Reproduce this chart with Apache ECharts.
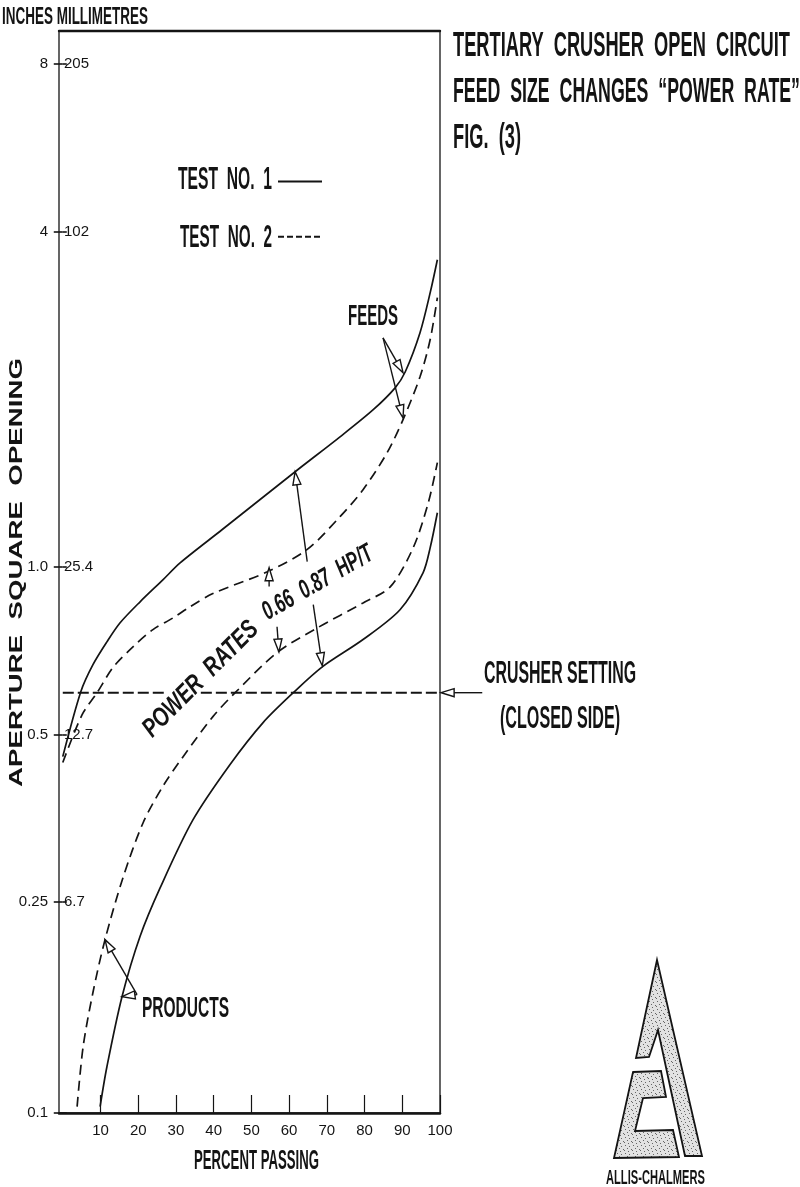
<!DOCTYPE html>
<html>
<head>
<meta charset="utf-8">
<style>html,body{margin:0;padding:0;background:#fff}#chart{width:800px;height:1187px}</style>
<script src="https://cdn.jsdelivr.net/npm/echarts@6/dist/echarts.min.js"></script>
</head>
<body>
<div id="chart"></div>
<script>
// [percent passing, aperture in inches]
const feedTest1 = [[0,0.456],[4.8,0.597],[8,0.667],[11.7,0.733],[15.2,0.793],[20.5,0.865],[26.6,0.948],[31.1,1.016],[42.2,1.165],[61.6,1.481],[73.5,1.711],[82.3,1.914],[88.1,2.095],[90.8,2.239],[94.7,2.631],[97.4,3.105],[99.3,3.558]];
const feedTest2 = [[0,0.445],[5.1,0.542],[9.1,0.594],[13.3,0.659],[18.6,0.718],[23.9,0.771],[29.2,0.809],[33.7,0.847],[39.8,0.895],[54.2,0.979],[64.8,1.074],[73.5,1.23],[79.6,1.375],[86,1.603],[90.2,1.837],[94.7,2.193],[97.4,2.558],[99.3,3.041]];
const productTest1 = [[9.9,0.1073],[11.7,0.1265],[15.7,0.169],[20.5,0.217],[25.8,0.265],[34.5,0.351],[44.3,0.441],[53.1,0.525],[61.1,0.594],[68.8,0.661],[79.6,0.74],[89.4,0.837],[95.5,0.975],[97.4,1.082],[99.3,1.25]];
const productTest2 = [[3.8,0.1073],[5.4,0.1375],[8,0.172],[11.2,0.214],[16,0.277],[21.3,0.347],[26.6,0.404],[31.9,0.456],[39.8,0.538],[45.7,0.594],[56.8,0.701],[67.4,0.776],[79.6,0.861],[86.8,0.92],[92.9,1.082],[96.9,1.303],[99.3,1.538]];
const crusherSetting = [[0,0.594],[27.1,0.594],[null,null],[36.6,0.594],[100,0.594]];
// leader arrows: from x, from y, to x, to y
const arrows = [[84.9,2.576,90.2,2.23],[84.9,2.576,90.2,1.85],[19.7,0.1705,11.2,0.214],[19.7,0.1705,15.7,0.169],[64.8,1.021,61.6,1.481],[66.4,0.855,68.8,0.664],[54.7,0.921,54.7,0.996],[56.8,0.78,57.3,0.703],[111.2,0.594,100.3,0.594]];
const percentTicks = [10,20,30,40,50,60,70,80,90,100];
// The printed "0.1" tick sits on the axis floor; the original's scale is compressed in that last stretch.
const axisFloor = 0.1045;
const axisTop = 9.16;
const inchTicks = [axisFloor,0.25,0.5,1,4,8];
const inchLabels = ['0.1','0.25','0.5','1.0','4','8'];
const mmLabels = ['','6.7','12.7','25.4','102','205'];

const FAMILY = 'Liberation Sans';
const INK = '#141414';
const measure = document.createElement('canvas').getContext('2d');

function fitText(text, x, y, width, cap, opts) {
  opts = opts || {};
  const size = 24;
  const font = (opts.italic ? 'italic ' : '') + 'bold ' + size + 'px "' + FAMILY + '"';
  measure.font = font;
  const m = measure.measureText(text).width;
  return {
    type: 'text', x: x, y: y + (opts.rotation ? 0 : cap * 0.06), rotation: opts.rotation || 0,
    scaleX: width / m, scaleY: cap / (size * 0.72), z: 20,
    style: { text: text, x: 0, y: 0, font: font, fill: INK, align: 'left', verticalAlign: 'middle' }
  };
}

function stipple() {
  const c = document.createElement('canvas');
  c.width = c.height = 8;
  const g = c.getContext('2d');
  g.fillStyle = '#e2e2e2'; g.fillRect(0,0,8,8);
  g.fillStyle = '#666';
  [[1,1],[5,2],[3,4],[7,5],[0,6],[4,7]].forEach(function (p) { g.fillRect(p[0],p[1],1,1); });
  return c;
}
const logoFill = { image: stipple(), repeat: 'repeat' };

function drawArrow(params, api) {
  const a = api.coord([api.value(0), api.value(1)]);
  const b = api.coord([api.value(2), api.value(3)]);
  const ang = Math.atan2(b[1]-a[1], b[0]-a[0]);
  const L = 13, W = 4;
  const bx = b[0] - L*Math.cos(ang), by = b[1] - L*Math.sin(ang);
  const nx = -Math.sin(ang)*W, ny = Math.cos(ang)*W;
  return { type: 'group', children: [
    { type:'line', shape:{x1:a[0],y1:a[1],x2:bx,y2:by}, style:{stroke:INK,lineWidth:1.4} },
    { type:'polygon', shape:{points:[[b[0],b[1]],[bx+nx,by+ny],[bx-nx,by-ny]]}, style:{fill:'#fff',stroke:INK,lineWidth:1.4} }
  ]};
}

function curve(name, data, dashed) {
  return { name: name, type: 'line', data: data, smooth: 0.3, showSymbol: false, symbol: 'none', z: 5,
    lineStyle: { color: INK, width: 1.7, type: dashed ? [10,6] : 'solid' }, itemStyle: { color: INK } };
}

const yBase = { type:'log', logBase:10, min:axisFloor, max:axisTop, splitLine:{show:false}, minorTick:{show:false}, axisLine:{show:false} };
const xBase = { type:'value', min:-1, max:100, splitLine:{show:false} };
const labelFor = function (names) {
  return function (v) { const i = inchTicks.findIndex(function (t) { return Math.abs(t-v) < 1e-6; }); return i < 0 ? '' : names[i]; };
};

const option = {
  animation: false,
  backgroundColor: '#fff',
  grid: { left:59, right:360, top:31, bottom:74, show:true, borderColor:INK, borderWidth:1.3, backgroundColor:'transparent' },
  legend: { data:[{name:'TEST NO. 1'},{name:'TEST NO. 2',lineStyle:{type:[6,3]}}], orient:'vertical', left:272, top:171, align:'left', itemGap:44, itemWidth:44, itemHeight:14,
    formatter:function(){ return ' '; }, textStyle:{ fontSize:10 }, selectedMode:false,
    itemStyle:{color:'transparent',borderColor:'transparent',borderWidth:0} },
  xAxis: [
    Object.assign({}, xBase, { position:'bottom',
      axisLine:{show:true,lineStyle:{color:INK,width:2.5}},
      axisTick:{show:true,inside:true,length:18,customValues:percentTicks,lineStyle:{color:INK,width:1.2}},
      axisLabel:{show:true,margin:10,customValues:percentTicks,fontFamily:FAMILY,fontSize:15,color:INK,hideOverlap:false} }),
    Object.assign({}, xBase, { position:'top',
      axisLine:{show:true,lineStyle:{color:INK,width:2.4}}, axisTick:{show:false}, axisLabel:{show:false} })
  ],
  yAxis: [
    Object.assign({}, yBase, { position:'left',
      axisTick:{show:true,length:9,customValues:inchTicks,lineStyle:{color:INK,width:1.6}},
      axisLabel:{show:true,margin:11,customValues:inchTicks,fontFamily:FAMILY,fontSize:15,color:INK,showMinLabel:true,showMaxLabel:true,formatter:labelFor(inchLabels)} }),
    Object.assign({}, yBase, { position:'left',
      axisTick:{show:true,inside:true,length:4,customValues:inchTicks,lineStyle:{color:INK,width:1.6}},
      axisLabel:{show:true,inside:true,margin:5,customValues:inchTicks,fontFamily:FAMILY,fontSize:15,color:INK,showMinLabel:true,showMaxLabel:true,formatter:labelFor(mmLabels)} })
  ],
  series: [
    curve('TEST NO. 1', feedTest1, false),
    curve('TEST NO. 2', feedTest2, true),
    curve('Product, test 1', productTest1, false),
    curve('Product, test 2', productTest2, true),
    { name:'Crusher setting', type:'line', data:crusherSetting, connectNulls:false, showSymbol:false, symbol:'none', z:4,
      lineStyle:{color:INK,width:2,type:[11,4]} },
    { name:'Leaders', type:'custom', data:arrows, renderItem:drawArrow, z:6, clip:false, encode:{x:[0,2],y:[1,3]}, silent:true }
  ],
  graphic: [
    fitText('INCHES MILLIMETRES', 2, 16, 146, 17),
    fitText('TEST  NO.  1', 178, 179, 94, 23),
    fitText('TEST  NO.  2', 180, 237, 92, 23),
    fitText('TERTIARY  CRUSHER  OPEN  CIRCUIT', 453, 45, 337, 25),
    fitText('FEED  SIZE  CHANGES  \u201CPOWER  RATE\u201D', 453, 91, 347, 25),
    fitText('FIG.  (3)', 453, 137, 68, 25),
    fitText('FEEDS', 348, 316, 50, 21),
    fitText('PRODUCTS', 142, 1008, 87, 21),
    fitText('CRUSHER SETTING', 484, 673, 152, 22),
    fitText('(CLOSED SIDE)', 500, 718, 120, 22),
    fitText('PERCENT PASSING', 194, 1160, 125, 20),
    fitText('POWER  RATES', 147, 733, 152, 19, {rotation: 45*Math.PI/180, italic:true}),
    fitText('0.66  0.87  HP/T', 264, 614, 124, 19, {rotation: 30*Math.PI/180, italic:true}),
    fitText('APERTURE  SQUARE  OPENING', 17, 787, 429, 13, {rotation: Math.PI/2}),
    { type:'polygon', z:15, shape:{points:[[657,960],[702,1156],[685,1156],[658,1030],[649,1057],[636,1058]]}, style:{fill:logoFill,stroke:INK,lineWidth:1.8} },
    { type:'polygon', z:15, shape:{points:[[633,1072],[661,1071],[666,1097],[643,1098],[635,1131],[673,1130],[679,1157],[614,1158]]}, style:{fill:logoFill,stroke:INK,lineWidth:1.8} },
    fitText('ALLIS-CHALMERS', 606, 1177, 99, 15)
  ]
};
const chart = echarts.init(document.getElementById('chart'), null, { renderer:'canvas' });
chart.setOption(option);
</script>
</body>
</html>
